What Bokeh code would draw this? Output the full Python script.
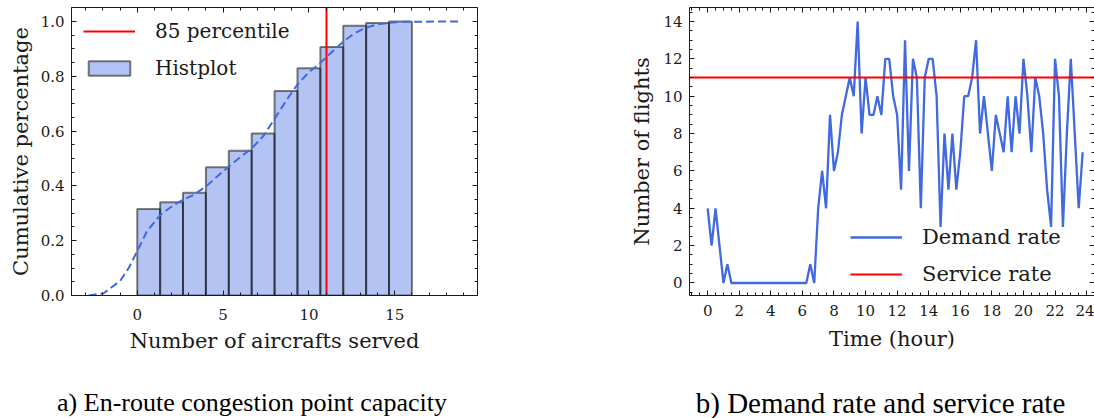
import numpy as np
from bokeh.plotting import figure
from bokeh.layouts import row, column
from bokeh.models import (LinearAxis, SingleIntervalTicker, Range1d, Legend, LegendItem,
                          ColumnDataSource, PrintfTickFormatter)
from bokeh.core.properties import value
from bokeh.embed import file_html
from bokeh.resources import INLINE

# ---------------- data: panel a (cumulative histogram) ----------------
hist_cum = [0.316, 0.340, 0.375, 0.468, 0.528, 0.591, 0.746, 0.829, 0.907, 0.984, 0.994, 1.000]
served_min, served_max = 0, 16
kde_x = [-2.83, -1.96, -0.99, -0.50, 0.00, 0.56, 1.34, 2.12, 2.64, 3.28, 3.98, 4.64, 5.30,
         6.00, 6.64, 7.36, 7.98, 8.72, 9.32, 9.98, 10.64, 11.24, 11.98, 12.60, 13.30,
         13.96, 14.64, 15.32, 18.72]
kde_y = [0.000, 0.008, 0.054, 0.100, 0.162, 0.234, 0.294, 0.330, 0.349, 0.367, 0.397, 0.433,
         0.469, 0.505, 0.535, 0.583, 0.643, 0.715, 0.769, 0.814, 0.847, 0.883, 0.925, 0.955,
         0.977, 0.989, 0.995, 0.999, 1.000]
percentile_85 = 11

# ---------------- data: panel b (demand vs service) ----------------
time_hour = np.arange(0, 24, 0.25)
demand = [4, 2, 4, 2, 0, 1, 0,
          0, 0, 0, 0, 0, 0, 0, 0, 0, 0, 0, 0, 0, 0, 0, 0, 0, 0, 0,
          1, 0, 4, 6, 4, 9,
          6, 7, 9, 10, 11, 10, 14, 8,
          11, 9, 9, 10, 9, 12, 12, 10,
          9, 5, 13, 6, 12, 11, 4, 11,
          12, 12, 10, 3, 8, 5, 8, 5,
          7, 10, 10, 11, 13, 8, 10, 8,
          6, 9, 8, 7, 10, 7, 10, 8,
          12, 10, 7, 11, 10, 8, 5, 3,
          12, 10, 3, 8, 12, 8, 4, 7]
service_rate = 11

captions = ["a) En-route congestion point capacity", "b) Demand rate and service rate"]
caption_sizes = ["26px", "29px"]

SERIF = "DejaVu Serif"
CAPTION_FONT = "Liberation Serif"
TXT = "#1a1a1a"
BLUE = "#4169e1"


def style_axis(ax, labels=True, tick_size="15px", label_standoff=7):
    ax.axis_line_color = TXT
    ax.axis_line_width = 1
    ax.major_tick_in = 5
    ax.major_tick_out = 0
    ax.minor_tick_in = 3
    ax.minor_tick_out = 0
    ax.major_tick_line_color = TXT
    ax.minor_tick_line_color = TXT
    ax.major_label_text_font = SERIF
    ax.axis_label_text_font = SERIF
    ax.axis_label_text_font_style = "normal"
    ax.axis_label_text_color = TXT
    ax.axis_label_text_font_size = "21px"
    if labels:
        ax.major_label_text_color = TXT
        ax.major_label_text_font_size = tick_size
        ax.major_label_standoff = label_standoff
    else:
        ax.major_label_text_color = None
        ax.major_label_text_alpha = 0
        ax.major_label_text_font_size = "1px"
        ax.major_label_standoff = 0


def add_axes(p, xticker, yticker, xlabel, ylabel, yfmt=None, xstand=5, ystand=7,
             xlab_stand=6, ylab_stand=5):
    bx = LinearAxis(ticker=xticker, axis_label=xlabel)
    style_axis(bx, True, label_standoff=xstand)
    bx.axis_label_standoff = xlab_stand
    ly = LinearAxis(ticker=yticker, axis_label=ylabel)
    style_axis(ly, True, label_standoff=ystand)
    ly.axis_label_standoff = ylab_stand
    if yfmt is not None:
        ly.formatter = yfmt
    ax_top = LinearAxis(ticker=xticker)
    style_axis(ax_top, False)
    ax_right = LinearAxis(ticker=yticker)
    style_axis(ax_right, False)
    p.add_layout(bx, "below")
    p.add_layout(ly, "left")
    p.add_layout(ax_top, "above")
    p.add_layout(ax_right, "right")


# ---------------- panel a ----------------
p1 = figure(width=580, height=368, output_backend="svg", toolbar_location=None,
            x_range=Range1d(-3.83, 19.82), y_range=Range1d(0, 1.051),
            x_axis_location=None, y_axis_location=None,
            min_border_left=71, min_border_right=103, min_border_top=7, min_border_bottom=69)
p1.outline_line_color = None
p1.grid.visible = False
p1.background_fill_color = "white"

edges = np.linspace(served_min, served_max, len(hist_cum) + 1)
hsrc = ColumnDataSource(dict(left=edges[:-1], right=edges[1:], top=hist_cum,
                             bottom=[0] * len(hist_cum)))
hq = p1.quad(left="left", right="right", top="top", bottom="bottom", source=hsrc,
             fill_color=BLUE, fill_alpha=0.4, line_color="black", line_alpha=0.5, line_width=2)
p1.line(kde_x, kde_y, line_color=BLUE, line_width=2, line_dash="8 4")
p1.vspan(x=[percentile_85], line_color="red", line_width=2)
# legend proxy (one NaN point: draws nothing in the plot, only in the legend)
red_proxy = p1.line(x=[np.nan], y=[np.nan], line_color="red", line_width=2)

add_axes(p1, SingleIntervalTicker(interval=5, num_minor_ticks=5),
         SingleIntervalTicker(interval=0.2, num_minor_ticks=4),
         "Number of aircrafts served", "Cumulative percentage",
         yfmt=PrintfTickFormatter(format="%.1f"), xstand=13)

leg1 = Legend(items=[LegendItem(label="85 percentile", renderers=[red_proxy]),
                     LegendItem(label="Histplot", renderers=[hq])],
              location="top_left", background_fill_alpha=0, border_line_alpha=0,
              glyph_width=52, glyph_height=18, label_standoff=20, padding=12, margin=0,
              spacing=13, label_text_font=SERIF, label_text_font_size="20px",
              label_text_color=TXT)
p1.add_layout(leg1)

# ---------------- panel b ----------------
p2 = figure(width=514, height=368, output_backend="svg", toolbar_location=None,
            x_range=Range1d(-1.15, 24.5), y_range=Range1d(-0.67, 14.75),
            x_axis_location=None, y_axis_location=None,
            min_border_left=109, min_border_right=0, min_border_top=7, min_border_bottom=73)
p2.outline_line_color = None
p2.grid.visible = False

dl = p2.line(time_hour, demand, line_color=BLUE, line_width=2.3)
p2.hspan(y=[service_rate], line_color="red", line_width=2)
red_proxy2 = p2.line(x=[np.nan], y=[np.nan], line_color="red", line_width=2)

add_axes(p2, SingleIntervalTicker(interval=2, num_minor_ticks=4),
         SingleIntervalTicker(interval=2, num_minor_ticks=4),
         "Time (hour)", "Number of flights", xstand=9, xlab_stand=8, ylab_stand=6)

leg2 = Legend(items=[LegendItem(label="Demand rate", renderers=[dl]),
                     LegendItem(label="Service rate", renderers=[red_proxy2])],
              location=(149, -3), background_fill_alpha=0, border_line_alpha=0,
              glyph_width=52, glyph_height=18, label_standoff=20, padding=12, margin=0,
              spacing=13, label_text_font=SERIF, label_text_font_size="21px",
              label_text_color=TXT)
p2.add_layout(leg2)

# ---------------- captions ----------------
p3 = figure(width=1094, height=50, output_backend="svg", toolbar_location=None,
            x_range=Range1d(0, 1094), y_range=Range1d(0, 50),
            x_axis_location=None, y_axis_location=None,
            min_border=0)
p3.outline_line_color = None
p3.grid.visible = False
cap_src = ColumnDataSource(dict(x=[251.5, 880], y=[16, 16], text=captions, size=caption_sizes))
p3.text(x="x", y="y", text="text", source=cap_src, text_align="center",
        text_baseline="middle", text_font=value(CAPTION_FONT), text_font_size="size",
        text_color="black")

layout = column(row(p1, p2, spacing=0), p3, spacing=0)

with open("out.html", "w") as f:
    f.write(file_html(layout, INLINE))
